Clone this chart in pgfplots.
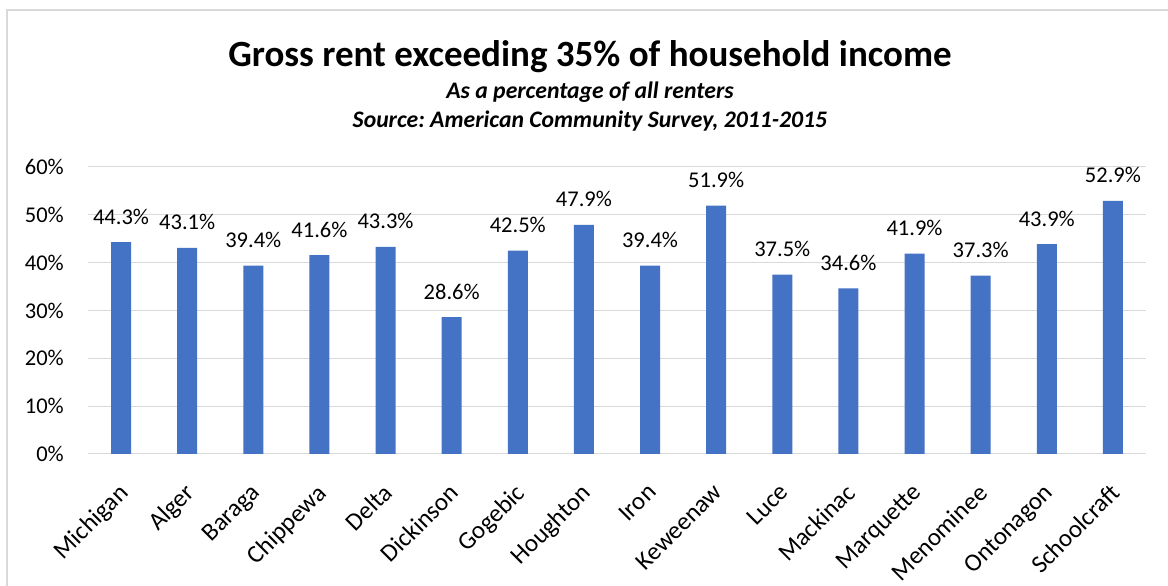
\documentclass[border=0pt]{standalone}
\usepackage{pgfplots}
\pgfplotsset{compat=1.18}
\usepackage{fontspec}
\setmainfont{Carlito}
\frenchspacing
\definecolor{barblue}{HTML}{4472C4}
\definecolor{gridgray}{HTML}{D9D9D9}
\begin{document}
\begin{tikzpicture}[x=1pt,y=1pt]
\path[use as bounding box, fill=white] (0,0) rectangle (1168,586);
\draw[gridgray, line width=2pt] (7,-5) -- (7,576) -- (1175,576);
\node[anchor=base, inner sep=0pt, font=\fontsize{37}{44}\selectfont\bfseries] at (590,519) {Gross rent exceeding 35\% of household income};
\node[anchor=base, inner sep=0pt, font=\fontsize{23.7}{28}\selectfont\bfseries\itshape] at (590,487) {As a percentage of all renters};
\node[anchor=base, inner sep=0pt, font=\fontsize{23.7}{28}\selectfont\bfseries\itshape] at (590,458) {Source: American Community Survey, 2011-2015};
\begin{axis}[
  at={(88pt,132pt)}, anchor=south west,
  scale only axis, width=1058pt, height=287pt,
  xmin=-0.5, xmax=15.5, ymin=0, ymax=60,
  axis line style={draw=none},
  major tick length=0pt,
  ymajorgrids, grid style={gridgray, line width=1pt},
  ytick={0,10,20,30,40,50,60},
  yticklabels={0\%,10\%,20\%,30\%,40\%,50\%,60\%},
  xtick={0,...,15},
  xticklabels={Michigan,Alger,Baraga,Chippewa,Delta,Dickinson,Gogebic,Houghton,Iron,Keweenaw,Luce,Mackinac,Marquette,Menominee,Ontonagon,Schoolcraft},
  yticklabel style={font=\fontsize{22.5}{27}\selectfont, black, anchor=east, inner sep=0pt, xshift=-24pt},
  xticklabel style={font=\fontsize{25}{30}\selectfont, black, yshift=-28pt, xshift=-4pt, rotate=45, anchor=north east, inner sep=0pt},
  /pgf/number format/assume math mode=true,
  ybar, bar width=20pt,
  point meta=explicit symbolic,
  nodes near coords={\pgfplotspointmeta\%},
  nodes near coords style={font=\fontsize{22.5}{27}\selectfont, black, anchor=base, inner sep=0pt, yshift=18pt},
  clip=false,
]
\addplot[fill=barblue, draw=none] coordinates {
(0,44.3) [44.3]
(1,43.1) [43.1]
(2,39.4) [39.4]
(3,41.6) [41.6]
(4,43.3) [43.3]
(5,28.6) [28.6]
(6,42.5) [42.5]
(7,47.9) [47.9]
(8,39.4) [39.4]
(9,51.9) [51.9]
(10,37.5) [37.5]
(11,34.6) [34.6]
(12,41.9) [41.9]
(13,37.3) [37.3]
(14,43.9) [43.9]
(15,52.9) [52.9]
};
\end{axis}
\end{tikzpicture}
\end{document}
